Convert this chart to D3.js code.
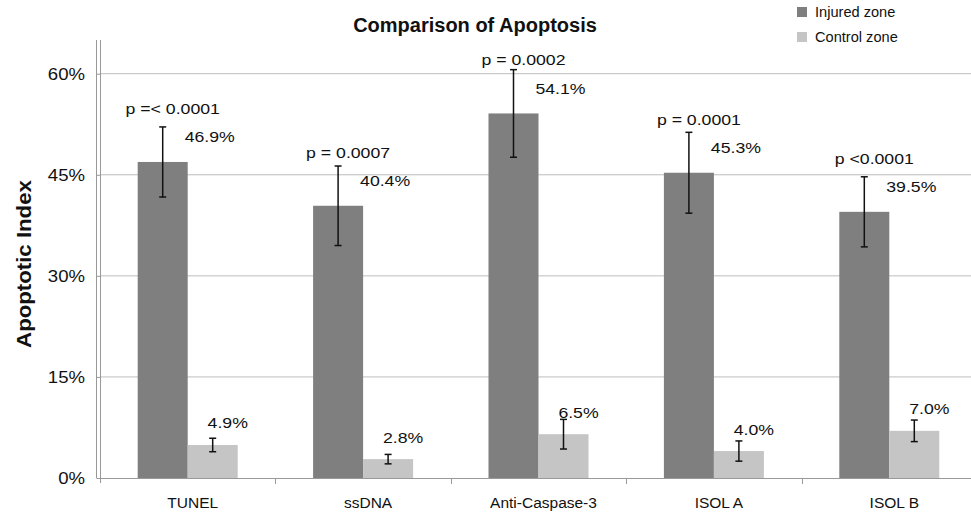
<!DOCTYPE html>
<html>
<head>
<meta charset="utf-8">
<script src="https://cdn.jsdelivr.net/npm/d3@7"></script>
<style>
  body { margin: 0; background: #fff; }
  text { font-family: "Liberation Sans", Arial, Helvetica, sans-serif; fill: #111; }
</style>
</head>
<body>
<svg id="chart"></svg>
<script>
var width = 971, height = 513;

// data
var categories = ["TUNEL", "ssDNA", "Anti-Caspase-3", "ISOL A", "ISOL B"];
var series = ["Injured zone", "Control zone"];
var injured = [46.9, 40.4, 54.1, 45.3, 39.5];
var injuredErr = [5.2, 5.9, 6.5, 6.0, 5.2];
var control = [4.9, 2.8, 6.5, 4.0, 7.0];
var controlErr = [1.0, 0.7, 2.2, 1.5, 1.6];
var pLabels = ["p =< 0.0001", "p = 0.0007", "p = 0.0002", "p = 0.0001", "p <0.0001"];
var yTicks = [0, 15, 30, 45, 60];

var colors = ["#7f7f7f", "#c4c5c4"];
var stretch = 1.14;

const svg = d3.select("svg#chart")
    .attr("width", width)
    .attr("height", height);

// scales
var y = d3.scaleLinear()
    .domain([0, 65])
    .range([478, 40]);

var x = d3.scaleBand()
    .domain(categories)
    .range([100, 977]);

var xs = d3.scaleBand()
    .domain(series)
    .range([0, x.bandwidth()])
    .paddingOuter(0.754);

var rows = categories.map((c, i) => ({
    cat: c,
    vals: [
        {s: series[0], v: injured[i], e: injuredErr[i]},
        {s: series[1], v: control[i], e: controlErr[i]}
    ],
    p: pLabels[i]
}));

// stretched text helper (reference text is a bit wider than the font)
function wideText(g, tx, ty, str, size, anchor) {
    return g.append("text")
        .attr("transform", "translate(" + tx + "," + ty + ") scale(" + stretch + ",1)")
        .attr("text-anchor", anchor || "middle")
        .style("font-size", size + "px")
        .text(str);
}

// gridlines
const grid = svg.append("g").attr("id", "grid");
grid.selectAll("line")
    .data(yTicks.filter(d => d > 0))
    .enter().append("line")
    .attr("x1", 100).attr("x2", width)
    .attr("y1", d => y(d)).attr("y2", d => y(d))
    .style("stroke", "#bdbdbd")
    .style("stroke-width", 1);

// y axis
const yAxis = svg.append("g")
    .attr("transform", "translate(100.5,0)")
    .call(d3.axisLeft(y).tickValues(yTicks).tickSize(4).tickFormat(""));
yAxis.select(".domain").style("stroke", "#999").attr("d", "M-4," + y(65) + "V" + y(0) + "M0," + y(65) + "V" + (y(0) + 5));
yAxis.selectAll(".tick line").style("stroke", "#999");

const yLab = svg.append("g");
yTicks.forEach(t => wideText(yLab, 85, y(t) + 6, t + "%", 16.3, "end"));

// x axis
svg.append("line")
    .attr("x1", 100).attr("x2", width)
    .attr("y1", y(0) + 0.5).attr("y2", y(0) + 0.5)
    .style("stroke", "#999");

svg.append("g").selectAll("line")
    .data(categories.slice(1))
    .enter().append("line")
    .attr("x1", d => Math.round(x(d)) + 0.5).attr("x2", d => Math.round(x(d)) + 0.5)
    .attr("y1", y(0)).attr("y2", y(0) + 6)
    .style("stroke", "#999");

svg.append("g").selectAll("text")
    .data(categories)
    .enter().append("text")
    .attr("x", d => x(d) + x.bandwidth() / 2 + 5)
    .attr("y", 508)
    .attr("text-anchor", "middle")
    .style("font-size", "15.5px")
    .text(d => d);

// bars
const groups = svg.append("g").attr("id", "bars")
    .selectAll("g")
    .data(rows)
    .enter().append("g")
    .attr("transform", d => "translate(" + x(d.cat) + ",0)");

groups.selectAll("rect")
    .data(d => d.vals)
    .enter().append("rect")
    .attr("x", d => xs(d.s))
    .attr("width", xs.bandwidth())
    .attr("y", d => y(d.v))
    .attr("height", d => y(0) - y(d.v))
    .style("fill", (d, i) => colors[i]);

// error bars
groups.each(function(row) {
    const g = d3.select(this);
    row.vals.forEach(d => {
        const cx = xs(d.s) + xs.bandwidth() / 2;
        const e = g.append("g").style("stroke", "#111").style("stroke-width", 1.5);
        e.append("line").attr("x1", cx).attr("x2", cx).attr("y1", y(d.v + d.e)).attr("y2", y(d.v - d.e));
        e.append("line").attr("x1", cx - 3.5).attr("x2", cx + 3.5).attr("y1", y(d.v + d.e)).attr("y2", y(d.v + d.e));
        e.append("line").attr("x1", cx - 3.5).attr("x2", cx + 3.5).attr("y1", y(d.v - d.e)).attr("y2", y(d.v - d.e));
    });

    // value labels
    const inj = row.vals[0], ctl = row.vals[1];
    const cxI = xs(inj.s) + xs.bandwidth() / 2;
    const cxC = xs(ctl.s) + xs.bandwidth() / 2;
    wideText(g, cxI + 47, y(inj.v) - 19.5, inj.v.toFixed(1) + "%", 15.5);
    wideText(g, cxC + 15, y(ctl.v) - 16.5, ctl.v.toFixed(1) + "%", 15.5);
    // p value
    wideText(g, cxI + 10, y(inj.v) - 48, row.p, 15.5);
});

// title
svg.append("text")
    .attr("x", 475)
    .attr("y", 32)
    .attr("text-anchor", "middle")
    .style("font-size", "20px")
    .style("font-weight", "bold")
    .text("Comparison of Apoptosis");

// y title
svg.append("text")
    .attr("transform", "translate(31,264) rotate(-90) scale(" + stretch + ",1)")
    .attr("text-anchor", "middle")
    .style("font-size", "19.5px")
    .style("font-weight", "bold")
    .text("Apoptotic Index");

// legend
const legend = svg.append("g").attr("id", "legend")
    .selectAll("g")
    .data(series)
    .enter().append("g")
    .attr("transform", (d, i) => "translate(797," + (7 + i * 25) + ")");

legend.append("rect")
    .attr("width", 10).attr("height", 10)
    .style("fill", (d, i) => colors[i]);

legend.append("text")
    .attr("x", 18).attr("y", 10)
    .style("font-size", "14.6px")
    .text(d => d);
</script>
</body>
</html>
